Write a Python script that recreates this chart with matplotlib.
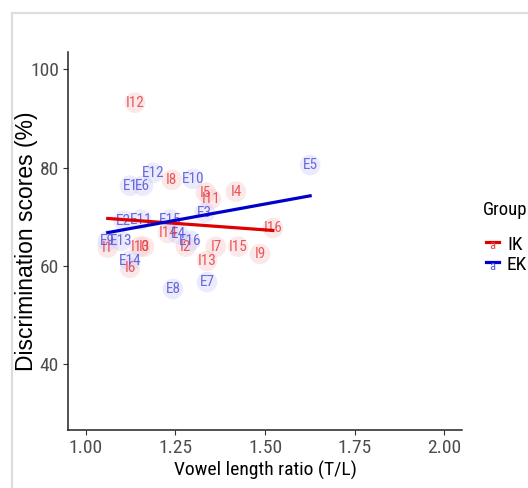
import numpy as np
import matplotlib
matplotlib.use("Agg")
import matplotlib.pyplot as plt
from matplotlib import font_manager
from matplotlib.lines import Line2D
from matplotlib.patches import Rectangle

# prefer a condensed sans face when one is available
fonts = font_manager.fontManager.ttflist
names = {f.name for f in fonts}
text_stretch = "normal"
scale = 0.88
for cand in ["Roboto Condensed", "Liberation Sans Narrow", "Open Sans Condensed"]:
    if cand in names:
        base_family = cand
        scale = 1.0
        break
else:
    if any(f.name == "DejaVu Sans" and f.stretch == "condensed" for f in fonts):
        base_family = "DejaVu Sans"
        text_stretch = "condensed"
        scale = 0.92
    else:
        base_family = "Liberation Sans"
plt.rcParams['font.family'] = [base_family, 'DejaVu Sans']
plt.rcParams['font.stretch'] = text_stretch

# Speaker data: vowel length ratio (T/L) vs. discrimination score (%)
ik_labels = ["I1", "I2", "I3", "I4", "I5", "I6", "I7", "I8",
             "I9", "I10", "I11", "I12", "I13", "I14", "I15", "I16"]
ik_ratio = [1.061, 1.279, 1.162, 1.419, 1.335, 1.123, 1.363, 1.240,
            1.486, 1.151, 1.349, 1.137, 1.338, 1.229, 1.425, 1.522]
ik_score = [63.7, 63.9, 63.9, 75.1, 74.9, 59.6, 63.9, 77.5,
            62.4, 63.9, 73.6, 93.2, 61.0, 66.7, 63.9, 67.7]

ek_labels = ["E1", "E2", "E3", "E4", "E5", "E6", "E7", "E8",
             "E9", "E10", "E11", "E12", "E13", "E14", "E15", "E16"]
ek_ratio = [1.123, 1.106, 1.332, 1.257, 1.626, 1.159, 1.338, 1.243,
            1.061, 1.299, 1.154, 1.187, 1.098, 1.123, 1.235, 1.291]
ek_score = [76.3, 69.2, 70.8, 66.5, 80.5, 76.3, 56.7, 55.3,
            65.1, 77.7, 69.4, 78.9, 65.1, 61.0, 69.4, 65.1]

x_ticks = [1.00, 1.25, 1.50, 1.75, 2.00]
y_ticks = [40, 60, 80, 100]

groups = [
    ("IK", ik_labels, ik_ratio, ik_score, "#E8474C", "#F6C9CB", "#E00000"),
    ("EK", ek_labels, ek_ratio, ek_score, "#5A5AE0", "#D0D0F6", "#0000CC"),
]

fig = plt.figure(figsize=(5.28, 4.88), dpi=100)
ax = fig.add_axes([0.1288, 0.1189, 0.875 - 0.1288, 0.8934 - 0.1189])

# light frame around the panel
fig.patches.append(Rectangle((12 / 528, -0.1), 2.0, 1 - 13 / 488 + 0.1,
                             transform=fig.transFigure, fill=False,
                             edgecolor="#DDDDDD", linewidth=1.6, zorder=0))

for name, labels, xs, ys, tcol, pcol, lcol in groups:
    xs = np.asarray(xs)
    ys = np.asarray(ys)
    ax.scatter(xs, ys, s=220, color=pcol, alpha=0.42, edgecolors="none", zorder=1)
    for lab, x, y in zip(labels, xs, ys):
        ax.text(x, y, lab, color=tcol, fontsize=11 * scale, ha="center", va="center",
                alpha=0.9, zorder=2)
    slope, icpt = np.polyfit(xs, ys, 1)
    fx = np.array([xs.min(), xs.max()])
    ax.plot(fx, slope * fx + icpt, color=lcol, linewidth=2.3, zorder=3)

ax.set_xlim(0.95, 2.05)
ax.set_ylim(26.6, 103.5)
ax.set_xticks(x_ticks)
ax.set_xticklabels([f"{v:.2f}" for v in x_ticks])
ax.set_yticks(y_ticks)
for s in ("top", "right"):
    ax.spines[s].set_visible(False)
for s in ("left", "bottom"):
    ax.spines[s].set_linewidth(1.1)
    ax.spines[s].set_color("#222222")
ax.tick_params(axis="both", direction="out", length=3.5, width=0.8,
               color="#333333", labelcolor="#4D4D4D", labelsize=14 * scale, pad=3)
ax.set_xlabel("Vowel length ratio (T/L)", fontsize=14 * scale, color="black",
              labelpad=3)
ax.set_ylabel("Discrimination scores (%)", fontsize=16.5, color="black",
              family=["Liberation Sans", "DejaVu Sans"], fontstretch="normal")
ax.yaxis.set_label_coords(-0.075, 0.5)

# legend
fig.text(483 / 528, 1 - 210 / 488, "Group", fontsize=13.5 * scale, ha="left",
         va="center")
for i, (name, labels, xs, ys, tcol, pcol, lcol) in enumerate(groups):
    yc = 1 - (245 + 20 * i) / 488
    fig.add_artist(Line2D([486 / 528, 499 / 528], [yc + 3 / 488, yc + 3 / 488],
                          transform=fig.transFigure, color=lcol, linewidth=2.3))
    fig.text(492.5 / 528, yc - 1 / 488, "a", color=tcol, fontsize=9,
             ha="center", va="center")
    fig.text(507 / 528, yc, name, fontsize=14 * scale, ha="left", va="center")

fig.savefig("out.png", dpi=100)
